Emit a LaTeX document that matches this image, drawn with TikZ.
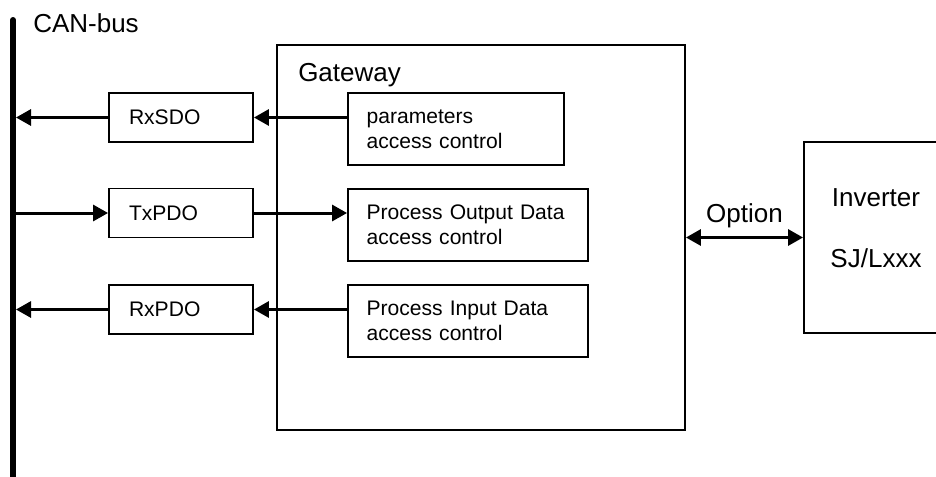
\documentclass[tikz,border=0pt]{standalone}
\usepackage{fontspec}
\setmainfont{Liberation Sans}
\usetikzlibrary{arrows.meta}

\tikzset{
  blk/.style={draw, line width=1.4pt, inner ysep=0pt, align=left,
    font=\fontsize{15.8}{18.5}\selectfont},
  pdo/.style={blk, inner xsep=15pt, text width=78pt, minimum height=36.75pt},
  ctl/.style={blk, inner xsep=14pt, minimum height=54pt},
  sig/.style={line width=2.25pt},
  big/.style={font=\fontsize{19.5}{23}\selectfont, inner sep=0pt},
}

\begin{document}
\begin{tikzpicture}[x=0.75pt, y=-0.75pt, >={Triangle[length=11.25pt, width=12pt]}]
      \clip (0,0) rectangle (936,476);
      %
      \draw[line width=4.5pt, line cap=round] (13,20) -- (13,490); % bus
      \coordinate (bus) at (16,20);                                  % right side of bus
      \node[big, anchor=base west] (canlbl) at (33,32) {CAN-bus};
      %
      \node[draw, line width=1.4pt, minimum width=306pt, minimum height=288.75pt]
        (gw) at (481,237.5) {};                                      % gateway
      \node[big, anchor=base west] (gwlbl) at (298,81) {Gateway};
      \node[ctl, text width=134pt] (par)  at (456,129) {parameters\\access control};
      \node[ctl, text width=152pt] (pout) at (468,225) {Process Output Data\\access control};
      \node[ctl, text width=152pt] (pin)  at (468,321) {Process Input Data\\access control};
      %
      \node[pdo] (rxsdo) at (181,117.5) {RxSDO};                    % objects
      \node[pdo] (txpdo) at (181,213)   {TxPDO};
      \node[pdo] (rxpdo) at (181,309.5) {RxPDO};
      %
      \node[draw, line width=1.4pt, big, align=center, minimum width=108pt,
        minimum height=143.25pt, text depth=13.5pt]
        (inv) at (876,237.5) {Inverter\\[22.75pt]SJ/Lxxx};          % inverter
      %
      \draw[sig, ->] (rxsdo.east -| par.west) -- (rxsdo.east);      % first row
      \draw[sig, ->] (rxsdo.west) -- (rxsdo.west -| bus);
      %%
      \draw[sig, ->] (txpdo.west -| bus) -- (txpdo.west);           % second row
      \draw[sig, ->] (txpdo.east) -- (txpdo.east -| pout.west);
      %%
      \draw[sig, ->] (rxpdo.east -| pin.west) -- (rxpdo.east);      % third row
      \draw[sig, ->] (rxpdo.west) -- (rxpdo.west -| bus);
      %
      \draw[sig, <->] (gw.east) -- (inv.west)
        node[midway, big, anchor=base, yshift=11.25pt] (optlbl) {Option};
      %
    \end{tikzpicture}
\end{document}
